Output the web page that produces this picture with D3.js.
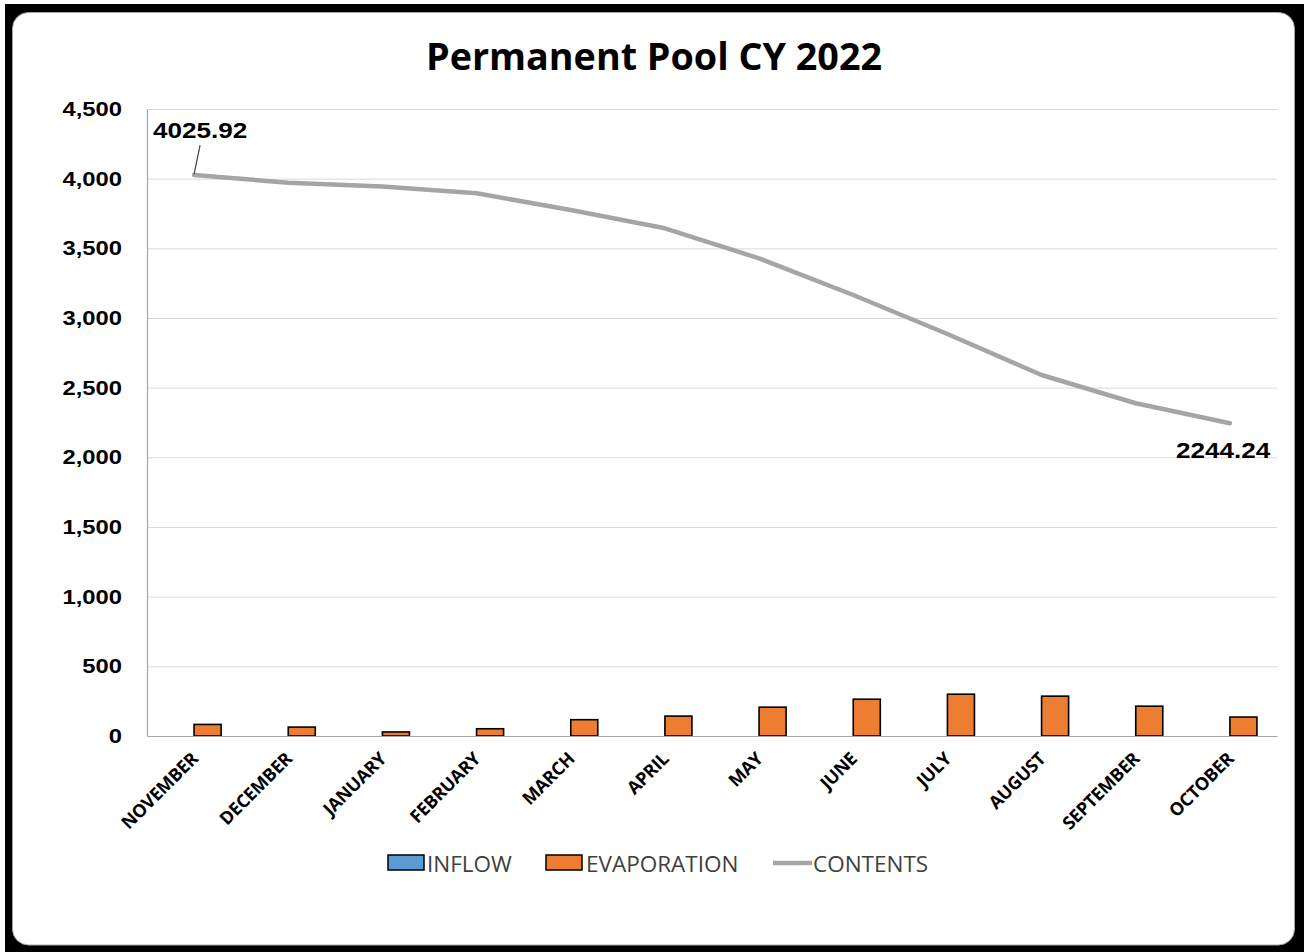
<!DOCTYPE html>
<html><head><meta charset="utf-8">
<script src="https://cdn.jsdelivr.net/npm/d3@7"></script>
<style>
html,body{margin:0;padding:0;background:#fff;}
svg{display:block;}
</style></head>
<body>
<svg id="chart" width="1304" height="952"></svg>
<script>
const title = "Permanent Pool CY 2022";
const months = ["NOVEMBER","DECEMBER","JANUARY","FEBRUARY","MARCH","APRIL","MAY","JUNE","JULY","AUGUST","SEPTEMBER","OCTOBER"];
const inflow = [0,0,0,0,0,0,0,0,0,0,0,0];
const evaporation = [83,64,29,52,117,143,207,264,300,286,214,136];
const contents = [4025.92,3971,3943,3895,3775,3644,3428,3165,2885,2591,2388,2244.24];
const yTicks = [0,500,1000,1500,2000,2500,3000,3500,4000,4500];
const seriesNames = ["INFLOW","EVAPORATION","CONTENTS"];
const seriesColors = {INFLOW:"#5B9BD5", EVAPORATION:"#ED7D31", CONTENTS:"#A5A5A5"};

const svg = d3.select("#chart");
// frame
svg.append("rect").attr("x",5).attr("y",4).attr("width",1299).attr("height",948).attr("fill","#000");
svg.append("rect").attr("x",12.5).attr("y",12.5).attr("width",1282).attr("height",932.5)
  .attr("rx",16).attr("fill","#fff").attr("stroke","#a6a6a6").attr("stroke-width",1);

const pLeft=147, pRight=1277, pTop=109, pBottom=736;
const x = d3.scaleBand().domain(months).range([pLeft,pRight]).padding(0);
const bw = x.bandwidth();
const barW = bw*0.287;
const x1 = d3.scaleBand().domain(["INFLOW","EVAPORATION"]).range([bw/2-barW, bw/2+barW]).padding(0);
const y = d3.scaleLinear().domain([0,4500]).range([pBottom,pTop]);

// title
svg.append("text").attr("x",654).attr("y",70).attr("text-anchor","middle")
  .attr("font-family","Open Sans, sans-serif").attr("font-weight","bold").attr("font-size",38)
  .attr("fill","#000").attr("textLength",456).attr("lengthAdjust","spacingAndGlyphs").text(title);

// gridlines
svg.append("g").selectAll("line").data(yTicks.filter(d=>d>0)).join("line")
  .attr("x1",pLeft).attr("x2",pRight).attr("y1",d=>y(d)+0.5).attr("y2",d=>y(d)+0.5)
  .attr("stroke","#d9d9d9").attr("stroke-width",1);

// y axis
const yAxis = svg.append("g").attr("transform",`translate(${pLeft},0)`)
  .call(d3.axisLeft(y).tickValues(yTicks).tickSize(0).tickPadding(25).tickFormat(d3.format(",")));
yAxis.select(".domain").attr("stroke","#a6a6a6").attr("stroke-width",1.2);
yAxis.selectAll("text").attr("font-family","Liberation Sans, Arial, sans-serif").attr("font-weight","bold")
  .attr("font-size",20.5).attr("fill","#000")
  .attr("transform",function(){const xx=+d3.select(this).attr("x");return `translate(${xx},0) scale(1.16,1) translate(${-xx},0)`;});

// bars
const groups = svg.append("g").selectAll("g").data(months).join("g").attr("transform",d=>`translate(${x(d)},0)`);
groups.append("rect").attr("x",x1("INFLOW")).attr("width",x1.bandwidth())
  .attr("y",(d,i)=>y(inflow[i])).attr("height",(d,i)=>y(0)-y(inflow[i]))
  .attr("fill",seriesColors.INFLOW).attr("stroke",(d,i)=>inflow[i]>0?"#000":"none").attr("stroke-width",1.5);
groups.append("rect").attr("x",x1("EVAPORATION")).attr("width",x1.bandwidth())
  .attr("y",(d,i)=>y(evaporation[i])).attr("height",(d,i)=>y(0)-y(evaporation[i]))
  .attr("fill",seriesColors.EVAPORATION).attr("stroke","#000").attr("stroke-width",1.6);

// x axis
const xAxis = svg.append("g").attr("transform",`translate(0,${pBottom})`)
  .call(d3.axisBottom(x).tickSize(0).tickPadding(0));
xAxis.select(".domain").attr("stroke","#a6a6a6").attr("stroke-width",1.2);
xAxis.selectAll("text").attr("font-family","Open Sans, sans-serif").attr("font-weight","bold")
  .attr("font-size",18).attr("fill","#000").attr("text-anchor","end")
  .attr("dy",0).attr("y",0).attr("letter-spacing",-0.3)
  .attr("transform","translate(5,24) rotate(-45)");

// line
const line = d3.line().x((d,i)=>x(months[i])+bw/2).y(d=>y(d));
svg.append("path").datum(contents).attr("d",line).attr("fill","none")
  .attr("stroke",seriesColors.CONTENTS).attr("stroke-width",4.5).attr("stroke-linecap","round").attr("stroke-linejoin","round");

// data labels
const first = contents[0], last = contents[contents.length-1];
const fx = x(months[0])+bw/2, lx = x(months[months.length-1])+bw/2;
svg.append("line").attr("x1",fx).attr("y1",y(first)-1).attr("x2",fx+6).attr("y2",y(first)-30)
  .attr("stroke","#404040").attr("stroke-width",1.2);
function lbl(xx,yy,t){
  svg.append("text").attr("x",xx).attr("y",yy).attr("font-family","Liberation Sans, Arial, sans-serif")
   .attr("font-weight","bold").attr("font-size",22.5).attr("fill","#000")
   .attr("transform",`translate(${xx},0) scale(1.16,1) translate(${-xx},0)`).text(t);
}
lbl(153,138,d3.format(".2f")(first));
lbl(1176,458,d3.format(".2f")(last));

// legend
const lg = svg.append("g").attr("font-family","Open Sans, sans-serif").attr("font-size",22.5).attr("fill","#404040");
lg.append("rect").attr("x",388).attr("y",855).attr("width",36).attr("height",15)
  .attr("fill",seriesColors.INFLOW).attr("stroke","#000").attr("stroke-width",1.5);
lg.append("text").attr("x",427).attr("y",872).text(seriesNames[0]);
lg.append("rect").attr("x",546).attr("y",855).attr("width",36).attr("height",15)
  .attr("fill",seriesColors.EVAPORATION).attr("stroke","#000").attr("stroke-width",1.5);
lg.append("text").attr("x",586).attr("y",872).text(seriesNames[1]);
lg.append("line").attr("x1",773).attr("x2",812).attr("y1",863).attr("y2",863)
  .attr("stroke",seriesColors.CONTENTS).attr("stroke-width",4.5);
lg.append("text").attr("x",813).attr("y",872).text(seriesNames[2]);
</script>
</body></html>
